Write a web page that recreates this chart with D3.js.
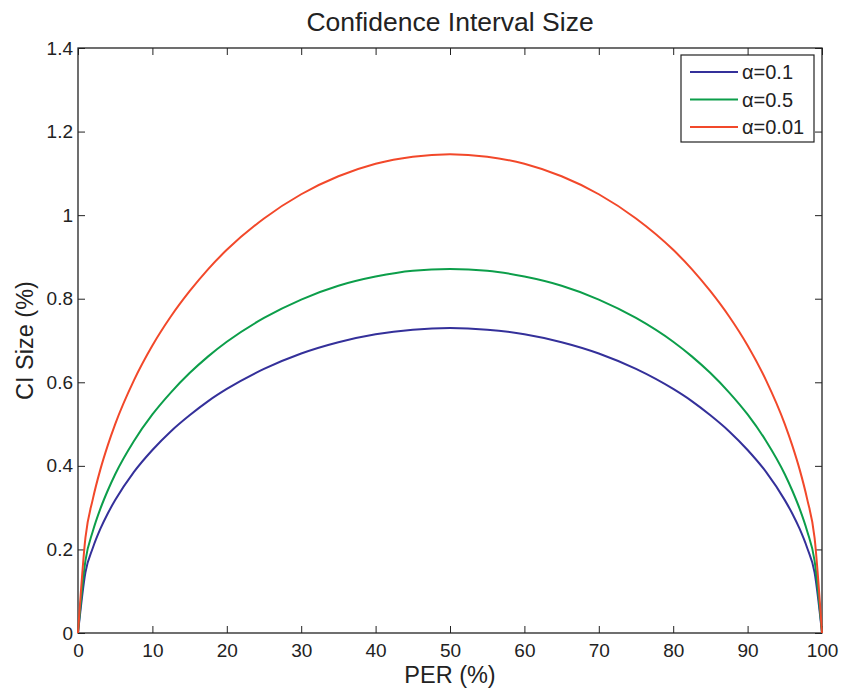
<!DOCTYPE html>
<html>
<head>
<meta charset="utf-8">
<script src="https://cdn.jsdelivr.net/npm/d3@7"></script>
<style>
  html, body { margin: 0; padding: 0; background: #fff; }
  svg text { font-family: "Liberation Sans", Arial, Helvetica, sans-serif; fill: #222; }
</style>
</head>
<body>
<svg id="chart" width="842" height="693"></svg>
<script>
// PER (%) sample positions
const per = [0, 1, 2, 3, 4, 5, 7.5, 10, 12.5, 15, 17.5, 20, 25, 30, 35, 40, 45, 50,
             55, 60, 65, 70, 75, 80, 82.5, 85, 87.5, 90, 92.5, 95, 96, 97, 98, 99, 100];

// CI size (%) for each confidence setting
const ciAlpha01 = [0, 0.145, 0.204, 0.249, 0.286, 0.318, 0.385, 0.438, 0.483, 0.521, 0.555, 0.584, 0.632, 0.669, 0.696, 0.715, 0.726, 0.730,
                   0.726, 0.715, 0.696, 0.669, 0.632, 0.584, 0.555, 0.521, 0.483, 0.438, 0.385, 0.318, 0.286, 0.249, 0.204, 0.145, 0];
const ciAlpha05 = [0, 0.173, 0.244, 0.297, 0.341, 0.380, 0.459, 0.523, 0.576, 0.622, 0.662, 0.697, 0.754, 0.798, 0.831, 0.853, 0.867, 0.871,
                   0.867, 0.853, 0.831, 0.798, 0.754, 0.697, 0.662, 0.622, 0.576, 0.523, 0.459, 0.380, 0.341, 0.297, 0.244, 0.173, 0];
const ciAlpha001 = [0, 0.228, 0.321, 0.391, 0.449, 0.500, 0.604, 0.688, 0.758, 0.818, 0.871, 0.917, 0.992, 1.050, 1.093, 1.123, 1.140, 1.146,
                    1.140, 1.123, 1.093, 1.050, 0.992, 0.917, 0.871, 0.818, 0.758, 0.688, 0.604, 0.500, 0.449, 0.391, 0.321, 0.228, 0];

const seriesNames = ["\u03B1=0.1", "\u03B1=0.5", "\u03B1=0.01"];
const seriesValues = [ciAlpha01, ciAlpha05, ciAlpha001];
const seriesColors = ["#34309a", "#0c9e4a", "#f2482a"];

const xTicks = [0, 10, 20, 30, 40, 50, 60, 70, 80, 90, 100];
const yTicks = [0, 0.2, 0.4, 0.6, 0.8, 1, 1.2, 1.4];

const svg = d3.select("#chart");
const plotL = 78, plotR = 822, plotT = 48, plotB = 633;

const x = d3.scaleLinear().domain([0, 100]).range([plotL, plotR]);
const y = d3.scaleLinear().domain([0, 1.4]).range([plotB, plotT]);

const tickLen = 7;

// Bottom axis (ticks pointing inward)
const gx = svg.append("g").attr("transform", `translate(0,${plotB})`)
  .call(d3.axisBottom(x).tickValues(xTicks).tickSize(-tickLen).tickPadding(11)
        .tickFormat(d3.format("d")));
// Top axis mirror ticks
const gxt = svg.append("g").attr("transform", `translate(0,${plotT})`)
  .call(d3.axisTop(x).tickValues(xTicks).tickSize(-tickLen).tickFormat(""));
// Left axis
const gy = svg.append("g").attr("transform", `translate(${plotL},0)`)
  .call(d3.axisLeft(y).tickValues(yTicks).tickSize(-tickLen).tickPadding(5)
        .tickFormat(d => String(+d.toFixed(1))));
// Right axis mirror ticks
const gyr = svg.append("g").attr("transform", `translate(${plotR},0)`)
  .call(d3.axisRight(y).tickValues(yTicks).tickSize(-tickLen).tickFormat(""));

[gx, gxt, gy, gyr].forEach(g => {
  g.select(".domain").remove();
  g.selectAll(".tick line").attr("stroke", "#222").attr("stroke-width", 1);
  g.selectAll(".tick text").attr("font-size", 19).attr("fill", "#222")
    .attr("font-family", "Liberation Sans, Arial, sans-serif");
});

// Plot box
svg.append("rect")
  .attr("x", plotL).attr("y", plotT)
  .attr("width", plotR - plotL).attr("height", plotB - plotT)
  .attr("fill", "none").attr("stroke", "#222").attr("stroke-width", 1.3);

// Curves
const line = d3.line().x((d, i) => x(per[i])).y(d => y(d)).curve(d3.curveMonotoneX);
seriesValues.forEach((vals, k) => {
  svg.append("path")
    .attr("d", line(vals))
    .attr("fill", "none")
    .attr("stroke", seriesColors[k])
    .attr("stroke-width", 2)
    .attr("stroke-linejoin", "round");
});

// Title and axis labels
svg.append("text").attr("x", (plotL + plotR) / 2).attr("y", 31)
  .attr("text-anchor", "middle").attr("font-size", 26.5).text("Confidence Interval Size");
svg.append("text").attr("x", (plotL + plotR) / 2).attr("y", 683)
  .attr("text-anchor", "middle").attr("font-size", 23.5).text("PER (%)");
svg.append("text").attr("transform", `translate(33,${(plotT + plotB) / 2}) rotate(-90)`)
  .attr("text-anchor", "middle").attr("font-size", 23.5).text("CI Size (%)");

// Legend
const lg = svg.append("g");
lg.append("rect").attr("x", 681).attr("y", 55).attr("width", 133).attr("height", 87)
  .attr("fill", "#fff").attr("stroke", "#222").attr("stroke-width", 1.2);
seriesNames.forEach((name, k) => {
  const cy = 72 + k * 27.5;
  lg.append("line").attr("x1", 690).attr("x2", 738).attr("y1", cy).attr("y2", cy)
    .attr("stroke", seriesColors[k]).attr("stroke-width", 2);
  lg.append("text").attr("x", 742).attr("y", cy + 7).attr("font-size", 20).text(name);
});
</script>
</body>
</html>
